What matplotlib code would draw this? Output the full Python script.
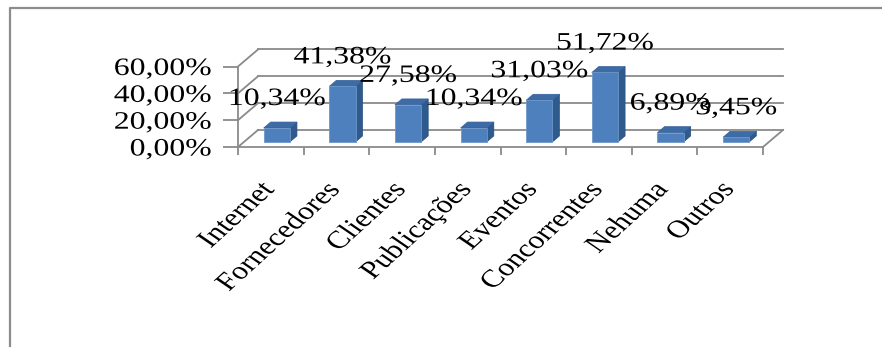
import numpy as np
import matplotlib
matplotlib.use("Agg")
import matplotlib.pyplot as plt
from matplotlib import patheffects
from matplotlib.patches import Polygon
from matplotlib.lines import Line2D
from matplotlib.transforms import Affine2D
from matplotlib.ticker import FuncFormatter

categories = ["Internet", "Fornecedores", "Clientes", "Publicações",
              "Eventos", "Concorrentes", "Nehuma", "Outros"]
values = [10.34, 41.38, 27.58, 10.34, 31.03, 51.72, 6.89, 3.45]
y_ticks = [0, 20, 40, 60]

plt.rcParams['font.family'] = ['Liberation Serif', 'DejaVu Serif']
plt.rcParams['font.size'] = 18


class StretchX(patheffects.AbstractPathEffect):
    """Widen drawn text horizontally about its centre or right end."""

    def __init__(self, sx, anchor="center"):
        super().__init__()
        self.sx = sx
        self.anchor = anchor

    def draw_path(self, renderer, gc, tpath, affine, rgbFace=None):
        if len(tpath.vertices) == 0:
            return
        pts = affine.transform(tpath.vertices)
        x0, x1 = pts[:, 0].min(), pts[:, 0].max()
        ref = x1 if self.anchor == "right" else 0.5 * (x0 + x1)
        t = affine + Affine2D().translate(-ref, 0).scale(self.sx, 1).translate(ref, 0)
        renderer.draw_path(gc, tpath, t, rgbFace)


def pct(v):
    return f"{v:.2f}%".replace(".", ",")


W, H = 882, 347
fig = plt.figure(figsize=(W / 100, H / 100), dpi=100)
# front box of the plot area in pixels: left 238, right 763, floor 147, 60% at 66
ax = fig.add_axes([238 / W, 1 - 147 / H, 525 / W, 80.5 / H])
ax.set_xlim(-0.5, len(categories) - 0.5)
ax.set_ylim(0, 60)
ax.patch.set_visible(False)

# depth of the 3D box (data units) and where the columns sit inside it
DX, DY = 0.305, 12.7
f0, f1 = 0.30, 0.65
bw = 0.40
grid_c = "#8a8a8a"

x_lo, x_hi = -0.5, len(categories) - 0.5
for v in y_ticks:
    ax.plot([x_lo + DX, x_hi + DX], [v + DY, v + DY], color=grid_c, lw=1.3,
            clip_on=False, zorder=1)
    ax.plot([x_lo, x_lo + DX], [v, v + DY], color=grid_c, lw=1.3,
            clip_on=False, zorder=1)
ax.plot([x_hi, x_hi + DX], [0, DY], color=grid_c, lw=1.3, clip_on=False, zorder=1)

front_c, side_c, top_c = "#4d80bd", "#2f5a8e", "#3d6ba6"
for i, v in enumerate(values):
    xl = i + f0 * DX - bw / 2
    xr = xl + bw
    yb = f0 * DY
    yt = yb + v
    ddx, ddy = (f1 - f0) * DX, (f1 - f0) * DY
    side = Polygon([(xr, yb), (xr + ddx, yb + ddy), (xr + ddx, yt + ddy), (xr, yt)],
                   closed=True, fc=side_c, ec="#2a4f7c", lw=0.5, clip_on=False, zorder=3)
    top = Polygon([(xl, yt), (xr, yt), (xr + ddx, yt + ddy), (xl + ddx, yt + ddy)],
                  closed=True, fc=top_c, ec="#35609a", lw=0.5, clip_on=False, zorder=3)
    front = Polygon([(xl, yb), (xr, yb), (xr, yt), (xl, yt)],
                    closed=True, fc=front_c, ec="#6d97c9", lw=0.6, clip_on=False, zorder=4)
    for p in (side, top, front):
        ax.add_patch(p)

for i, v in enumerate(values):
    ax.annotate(pct(v), xy=(i + f0 * DX, f0 * DY + v), xytext=(0, 29),
                textcoords="offset pixels", ha="center", va="center",
                fontsize=18, color="black", zorder=6, annotation_clip=False,
                path_effects=[StretchX(1.27)])

# axes: front-left vertical and front floor edge
for s in ("top", "right"):
    ax.spines[s].set_visible(False)
for s in ("left", "bottom"):
    ax.spines[s].set_color(grid_c)
    ax.spines[s].set_linewidth(1.3)

ax.set_yticks(y_ticks)
ax.yaxis.set_major_formatter(FuncFormatter(lambda v, _: pct(v)))
ax.tick_params(axis="y", direction="out", length=11, width=1.3, color=grid_c, pad=8)
for lab in ax.get_yticklabels():
    lab.set_path_effects([StretchX(1.27, "right")])

ax.set_xticks(np.arange(len(categories)))
ax.set_xticklabels(categories, rotation=49, rotation_mode="anchor",
                   ha="right", va="center")
ax.set_xticks(np.arange(len(categories) + 1) - 0.5, minor=True)
ax.tick_params(axis="x", which="major", length=0, pad=28)
ax.tick_params(axis="x", which="minor", direction="out", length=6, width=1.3,
               color=grid_c)
for lab in ax.get_xticklabels():
    lab.set_path_effects([StretchX(1.27, "right")])

# outer chart border (runs off the right and bottom)
fig.add_artist(Line2D([10 / W, 10 / W, 1.0], [0.0, 1 - 8 / H, 1 - 8 / H],
                      transform=fig.transFigure, color="#8c8c8c", lw=1.6))

fig.savefig("out.png", dpi=100)
